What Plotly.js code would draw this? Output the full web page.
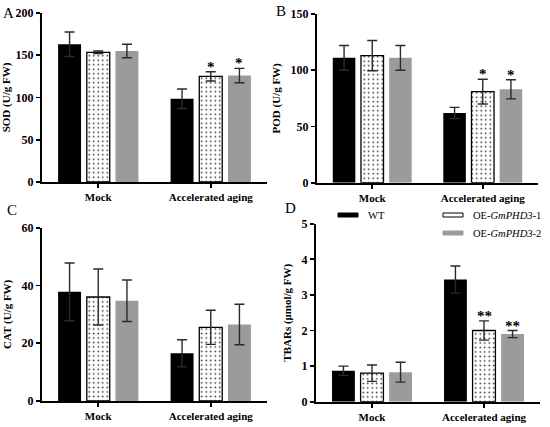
<!DOCTYPE html>
<html>
<head>
<meta charset="utf-8">
<script src="https://cdn.plot.ly/plotly-3.0.1.min.js"></script>
<style>html,body{margin:0;padding:0;background:#fff;}#chart{width:550px;height:427px;}</style>
</head>
<body>
<div id="chart"></div>
<script>
// ---- data ----
const categories = ['Mock', 'Accelerated aging'];
const seriesNames = ['WT', 'OE-<i>GmPHD3</i>-1', 'OE-<i>GmPHD3</i>-2'];

const sodWT = [163, 98.5],   sodWTErr = [14.5, 11.5];
const sodOE1 = [153.5, 125], sodOE1Err = [1.5, 5.5];
const sodOE2 = [155, 126],   sodOE2Err = [8, 8.5];
const sodSig = [['', ''], ['', '*'], ['', '*']];

const podWT = [111, 62],     podWTErr = [11, 5];
const podOE1 = [113, 81],    podOE1Err = [13.5, 11];
const podOE2 = [111, 83],    podOE2Err = [11, 8.5];
const podSig = [['', ''], ['', '*'], ['', '*']];

const catWT = [37.8, 16.5],  catWTErr = [10, 4.7];
const catOE1 = [36, 25.5],   catOE1Err = [9.7, 5.9];
const catOE2 = [34.7, 26.5], catOE2Err = [7.2, 7];
const catSig = [['', ''], ['', ''], ['', '']];

const tbWT = [0.87, 3.43],   tbWTErr = [0.13, 0.38];
const tbOE1 = [0.8, 2.0],    tbOE1Err = [0.23, 0.27];
const tbOE2 = [0.83, 1.9],   tbOE2Err = [0.28, 0.1];
const tbSig = [['', ''], ['', '**'], ['', '**']];

const yTitles = ['SOD (U/g FW)', 'POD (U/g FW)', 'CAT (U/g FW)', 'TBARs (μmol/g FW)'];
const yRanges = [[0, 200], [0, 150], [0, 60], [0, 5]];
const yDticks = [50, 50, 20, 1];
const panelLetters = ['A', 'B', 'C', 'D'];

// ---- styling ----
const FONT = 'Liberation Serif, Times New Roman, serif';
const GRAY = '#9b9b9b';
const ERRC = '#2a2a2a';

const panels = [
  {vals: [sodWT, sodOE1, sodOE2], errs: [sodWTErr, sodOE1Err, sodOE2Err], sig: sodSig},
  {vals: [podWT, podOE1, podOE2], errs: [podWTErr, podOE1Err, podOE2Err], sig: podSig},
  {vals: [catWT, catOE1, catOE2], errs: [catWTErr, catOE1Err, catOE2Err], sig: catSig},
  {vals: [tbWT, tbOE1, tbOE2], errs: [tbWTErr, tbOE1Err, tbOE2Err], sig: tbSig}
];

const W = 550, H = 427;
const xDomPx = [[42, 267], [317, 538], [42, 267], [316, 540]];
const yDomPx = [[13, 182], [14, 182.7], [227.7, 401], [223.7, 401.7]];
const letterPos = [[1, 13], [274, 11], [5, 210], [283, 208]];

function markerFor(s) {
  if (s === 0) return {color: '#000', line: {color: '#000', width: 0}};
  if (s === 1) return {color: '#fff', line: {color: '#000', width: 1.3},
    pattern: {shape: '.', fgcolor: '#222', bgcolor: '#fff', size: 4.5, solidity: 0.1}};
  return {color: GRAY, line: {color: GRAY, width: 0}};
}

const traces = [];
const annotations = [];
const layout = {
  width: W, height: H,
  margin: {l: 0, r: 0, t: 0, b: 0},
  paper_bgcolor: '#fff', plot_bgcolor: '#fff',
  barmode: 'group', bargap: 0.235, bargroupgap: 0.2,
  showlegend: false,
  font: {family: FONT, color: '#000'},
  shapes: []
};

panels.forEach((p, i) => {
  const xa = 'x' + (i === 0 ? '' : i + 1);
  const ya = 'y' + (i === 0 ? '' : i + 1);
  for (let s = 0; s < 3; s++) {
    traces.push({
      type: 'bar', x: categories, y: p.vals[s], name: seriesNames[s],
      xaxis: xa, yaxis: ya, marker: markerFor(s),
      error_y: {type: 'data', array: p.errs[s], visible: true, color: ERRC, thickness: 1.4, width: 5},
      hoverinfo: 'skip'
    });
    // significance marks
    p.sig[s].forEach((t, c) => {
      if (!t) return;
      const barSpacing = (xDomPx[i][1] - xDomPx[i][0]) / 2 * (1 - 0.235) / 3;
      annotations.push({
        xref: xa, yref: ya, x: categories[c], y: p.vals[s][c] + p.errs[s][c],
        xshift: (s - 1) * barSpacing, yshift: -5,
        text: t, showarrow: false, yanchor: 'bottom',
        font: {family: FONT, size: 15, color: '#000', weight: 'bold'}
      });
    });
  }
  const axKeyX = 'xaxis' + (i === 0 ? '' : i + 1);
  const axKeyY = 'yaxis' + (i === 0 ? '' : i + 1);
  layout[axKeyX] = {
    domain: [xDomPx[i][0] / W, xDomPx[i][1] / W], anchor: ya,
    type: 'category', range: [-0.5, 1.5],
    showline: true, linecolor: '#000', linewidth: 2,
    ticks: 'outside', ticklen: 4, tickwidth: 1.6, tickcolor: '#000',
    tickfont: {family: FONT, size: 11, color: '#000', weight: 'bold'},
    showgrid: false, zeroline: false, fixedrange: true
  };
  layout[axKeyY] = {
    domain: [1 - yDomPx[i][1] / H, 1 - yDomPx[i][0] / H], anchor: xa,
    range: yRanges[i], dtick: yDticks[i], tick0: 0,
    showline: true, linecolor: '#000', linewidth: 2,
    ticks: 'outside', ticklen: 4, tickwidth: 1.6, tickcolor: '#000',
    tickfont: {family: FONT, size: 12, color: '#000', weight: 'bold'},
    title: {text: yTitles[i], font: {family: FONT, size: 11, color: '#000', weight: 'bold'}, standoff: 8},
    showgrid: false, zeroline: false, fixedrange: true
  };
  annotations.push({
    xref: 'paper', yref: 'paper',
    x: letterPos[i][0] / W, y: 1 - letterPos[i][1] / H,
    text: panelLetters[i], showarrow: false, xanchor: 'left', yanchor: 'middle',
    font: {family: FONT, size: 15, color: '#000'}
  });
});

// manual legend (panel D, top)
const legendItems = [
  {x0: 338, x1: 358, y: 215, tx: 366, fill: '#000', line: '#000'},
  {x0: 443, x1: 463, y: 215, tx: 471, fill: '#fff', line: '#000'},
  {x0: 443, x1: 463, y: 233, tx: 471, fill: GRAY, line: GRAY}
];
legendItems.forEach((it, k) => {
  layout.shapes.push({
    type: 'rect', xref: 'paper', yref: 'paper',
    x0: it.x0 / W, x1: it.x1 / W, y0: 1 - (it.y + 2) / H, y1: 1 - (it.y - 2) / H,
    fillcolor: it.fill, line: {color: it.line, width: 1}
  });
  annotations.push({
    xref: 'paper', yref: 'paper', x: it.tx / W, y: 1 - it.y / H,
    text: seriesNames[k], showarrow: false, xanchor: 'left', yanchor: 'middle',
    font: {family: FONT, size: 10.5, color: '#000'}
  });
});

layout.annotations = annotations;
Plotly.newPlot('chart', traces, layout, {staticPlot: true, displayModeBar: false});
</script>
</body>
</html>
